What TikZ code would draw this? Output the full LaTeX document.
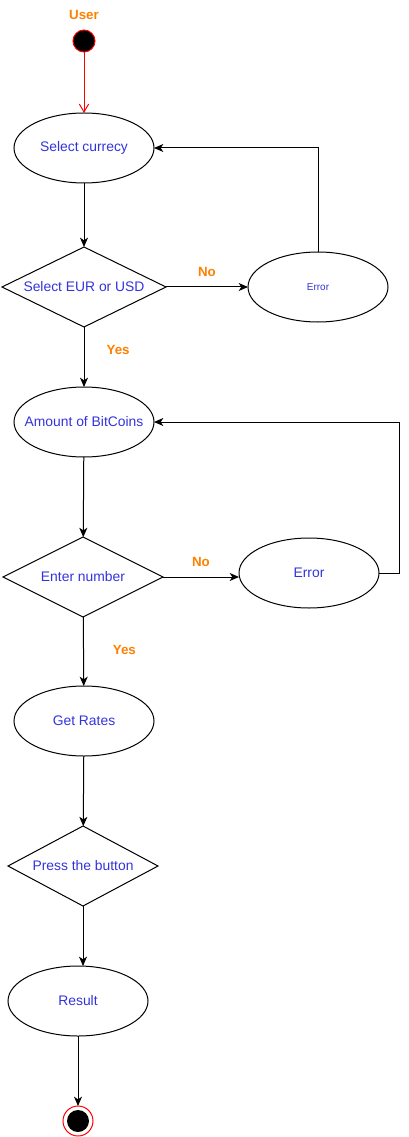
\documentclass[tikz,border=0pt]{standalone}
\usepackage{fontspec}
\setmainfont{Liberation Sans}
\usetikzlibrary{positioning,shapes.geometric,arrows.meta}
\definecolor{txtblue}{RGB}{51,51,220}
\definecolor{lblorange}{RGB}{255,128,0}

\begin{document}
\begin{tikzpicture}[
    font=\fontsize{10.4}{12}\selectfont,
    line width=0.75pt,
    every node/.style={outer sep=0pt},
    act/.style={ellipse, draw, minimum width=105pt, minimum height=52.5pt, inner sep=0pt, inner xsep=-12pt, text=txtblue},
    dec/.style={diamond, draw, aspect=2, minimum width=123pt, minimum height=60pt, inner sep=0pt, text=txtblue},
    lbl/.style={text=lblorange, font=\fontsize{10}{12}\selectfont\bfseries, inner sep=1pt},
    flow/.style={-{Stealth[length=7pt,width=6pt,inset=2pt]}}
  ]
  \useasboundingbox (0,0) rectangle (306pt,-852.75pt);

  % Place nodes
  \node[circle, draw=red, fill=black, minimum size=16.5pt, inner sep=0pt] (start) at (63pt,-30.75pt) {};
  \node[lbl]   (user)  [above=7pt of start]                      {User};
  \node[act]   (sel)   [below=45.75pt of start]                  {Select currecy};
  \node[dec]   (d1)    [below=48pt of sel]                       {Select EUR or USD};
  \node[act, font=\fontsize{7.5}{9}\selectfont] (err1) [right=61.5pt of d1] {Error};
  \node[act]   (amt)   [below=45pt of d1]                        {Amount of BitCoins};
  \node[dec, minimum width=120pt] (d2) [below=60pt of amt, xshift=-0.75pt] {Enter number};
  \node[act]   (err2)  [right=57pt of d2, yshift=3pt]            {Error};
  \node[act]   (rates) [below=51.75pt of d2, xshift=0.75pt]      {Get Rates};
  \node[dec, minimum width=112.5pt] (d3) [below=52.5pt of rates, xshift=-0.75pt] {Press the button};
  \node[act]   (res)   [below=45pt of d3, xshift=-3.75pt]        {Result};
  \node[circle, draw=red, minimum size=22.5pt, inner sep=0pt,
        path picture={\fill[black] (path picture bounding box.center) circle (8.25pt);}]
               (stop)  [below=52.5pt of res]                     {};

  % Draw edges
  \draw [red, -{Straight Barb[length=6pt,width=7pt]}] (start) -- (sel);
  \draw [flow] (sel) -- (d1);
  \draw [flow] (d1) -- node [lbl, above=7pt] {No} (err1);
  \draw [flow] (err1.north) |- (sel.east);
  \draw [flow] (d1) -- node [lbl, right=16pt, pos=0.38] {Yes} (amt);
  \draw [flow] (amt) -- (d2);
  \draw [flow] (d2.east) -- node [lbl, above=7pt] {No} (d2.east -| err2.west);
  \draw [flow] (err2.east) -- ++(15pt,0) |- (amt.east);
  \draw [flow] (d2) -- node [lbl, right=21pt, pos=0.48] {Yes} (rates);
  \draw [flow] (rates) -- (d3);
  \draw [flow] (d3.south) -- (d3.south |- res.north);
  \draw [flow] (res) -- (stop);
\end{tikzpicture}
\end{document}
